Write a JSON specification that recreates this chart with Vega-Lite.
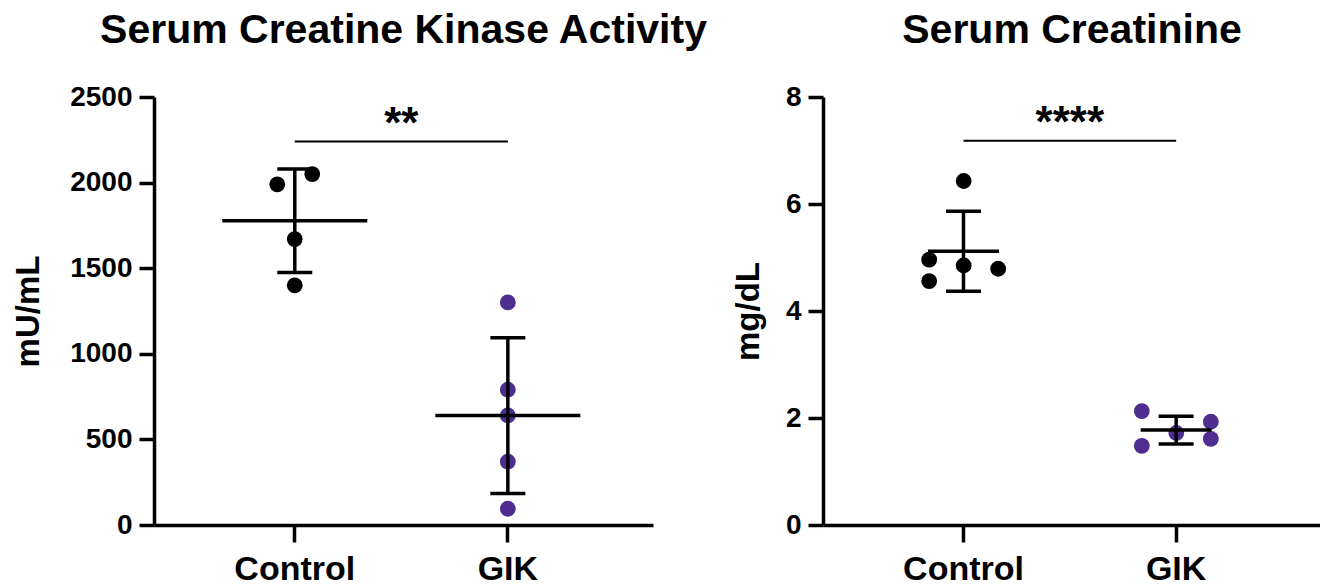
{
  "$schema": "https://vega.github.io/schema/vega-lite/v6.json",
  "background": "white",
  "padding": {"left": 12, "top": 10, "right": 0, "bottom": 0},
  "spacing": 24,
  "resolve": {"scale": {"xOffset": "independent"}},
  "config": {
    "font": "Liberation Sans",
    "view": {"stroke": null},
    "axis": {
      "grid": false,
      "domainColor": "black",
      "domainWidth": 3.5,
      "tickColor": "black",
      "tickWidth": 3.5,
      "tickSize": 15,
      "labelColor": "black",
      "labelFont": "Liberation Sans",
      "labelFontWeight": "bold",
      "labelFontSize": 28,
      "titleFont": "Liberation Sans",
      "titleFontWeight": "bold",
      "titleFontSize": 33,
      "titleColor": "black"
    },
    "title": {"font": "Liberation Sans", "fontWeight": "bold", "fontSize": 41, "color": "black", "anchor": "middle", "offset": 31}
  },
  "datasets": {
    "ck": [
      {"Group": "Control", "lane": "right", "value": 2050},
      {"Group": "Control", "lane": "left", "value": 1990},
      {"Group": "Control", "lane": "mid", "value": 1670},
      {"Group": "Control", "lane": "mid", "value": 1400},
      {"Group": "GIK", "lane": "mid", "value": 1300},
      {"Group": "GIK", "lane": "mid", "value": 790},
      {"Group": "GIK", "lane": "mid", "value": 640},
      {"Group": "GIK", "lane": "mid", "value": 370},
      {"Group": "GIK", "lane": "mid", "value": 95}
    ],
    "ck_sig": [{"from": "Control", "to": "GIK", "y": 2240, "label": "**"}],
    "creat": [
      {"Group": "Control", "lane": "mid", "value": 6.43},
      {"Group": "Control", "lane": "left", "value": 4.96},
      {"Group": "Control", "lane": "mid", "value": 4.85},
      {"Group": "Control", "lane": "right", "value": 4.79},
      {"Group": "Control", "lane": "left", "value": 4.56},
      {"Group": "GIK", "lane": "left", "value": 2.13},
      {"Group": "GIK", "lane": "right", "value": 1.93},
      {"Group": "GIK", "lane": "mid", "value": 1.72},
      {"Group": "GIK", "lane": "right", "value": 1.61},
      {"Group": "GIK", "lane": "left", "value": 1.48}
    ],
    "creat_sig": [{"from": "Control", "to": "GIK", "y": 7.18, "label": "****"}]
  },
  "hconcat": [
    {
      "title": {"text": "Serum Creatine Kinase Activity"},
      "width": 499,
      "height": 428,
      "layer": [
        {
          "data": {"name": "ck"},
          "mark": {"type": "circle", "size": 250, "opacity": 1},
          "encoding": {
            "x": {"field": "Group", "type": "nominal", "sort": ["Control", "GIK"],
              "scale": {"type": "band", "domain": ["Control", "GIK"], "paddingInner": 0, "paddingOuter": 0.171, "align": 0.47},
              "axis": {"title": null, "labelAngle": 0, "labelFontSize": 34, "labelPadding": 10, "tickSize": 17}},
            "xOffset": {"field": "lane", "type": "nominal", "scale": {"domain": ["left", "mid", "right"], "range": [80.25, 132.75]}},
            "y": {"field": "value", "type": "quantitative", "title": "mU/mL", "scale": {"domain": [0, 2500], "nice": false},
              "axis": {"title": "mU/mL", "values": [0, 500, 1000, 1500, 2000, 2500], "format": "d", "labelPadding": 7, "titlePadding": 24}},
            "color": {"field": "Group", "type": "nominal", "scale": {"domain": ["Control", "GIK"], "range": ["#000000", "#502D91"]}, "legend": null}
          }
        },
        {
          "data": {"name": "ck"},
          "mark": {"type": "errorbar", "extent": "stdev", "ticks": {"size": 35, "thickness": 3.5, "color": "black", "opacity": 1}, "rule": {"strokeWidth": 3.5, "color": "black", "opacity": 1}},
          "encoding": {
            "x": {"field": "Group", "type": "nominal"},
            "y": {"field": "value", "type": "quantitative", "title": "mU/mL"}
          }
        },
        {
          "data": {"name": "ck"},
          "mark": {"type": "tick", "size": 145, "thickness": 3.5, "color": "black", "opacity": 1},
          "encoding": {
            "x": {"field": "Group", "type": "nominal"},
            "y": {"field": "value", "aggregate": "mean", "type": "quantitative", "title": "mU/mL"}
          }
        },
        {
          "data": {"name": "ck_sig"},
          "mark": {"type": "rule", "strokeWidth": 2, "color": "black"},
          "encoding": {
            "x": {"field": "from", "type": "nominal"},
            "x2": {"field": "to"},
            "y": {"field": "y", "type": "quantitative", "title": "mU/mL"}
          }
        },
        {
          "data": {"name": "ck_sig"},
          "mark": {"type": "text", "fontSize": 44, "fontWeight": "bold", "baseline": "bottom", "dy": 5, "color": "black"},
          "encoding": {
            "x": {"field": "from", "type": "nominal", "bandPosition": 1},
            "y": {"field": "y", "type": "quantitative", "title": "mU/mL"},
            "text": {"field": "label"}
          }
        }
      ]
    },
    {
      "title": {"text": "Serum Creatinine"},
      "width": 498,
      "height": 428,
      "layer": [
        {
          "data": {"name": "creat"},
          "mark": {"type": "circle", "size": 250, "opacity": 1},
          "encoding": {
            "x": {"field": "Group", "type": "nominal", "sort": ["Control", "GIK"],
              "scale": {"type": "band", "domain": ["Control", "GIK"], "paddingInner": 0, "paddingOuter": 0.171, "align": 0.47},
              "axis": {"title": null, "labelAngle": 0, "labelFontSize": 34, "labelPadding": 10, "tickSize": 17}},
            "xOffset": {"field": "lane", "type": "nominal", "scale": {"domain": ["left", "mid", "right"], "range": [54.75, 158.25]}},
            "y": {"field": "value", "type": "quantitative", "title": "mg/dL", "scale": {"domain": [0, 8], "nice": false},
              "axis": {"title": "mg/dL", "values": [0, 2, 4, 6, 8], "labelPadding": 7, "titlePadding": 20}},
            "color": {"field": "Group", "type": "nominal", "scale": {"domain": ["Control", "GIK"], "range": ["#000000", "#502D91"]}, "legend": null}
          }
        },
        {
          "data": {"name": "creat"},
          "mark": {"type": "errorbar", "extent": "stdev", "ticks": {"size": 35, "thickness": 3.5, "color": "black", "opacity": 1}, "rule": {"strokeWidth": 3.5, "color": "black", "opacity": 1}},
          "encoding": {
            "x": {"field": "Group", "type": "nominal"},
            "y": {"field": "value", "type": "quantitative", "title": "mg/dL"}
          }
        },
        {
          "data": {"name": "creat"},
          "mark": {"type": "tick", "size": 71, "thickness": 3.5, "color": "black", "opacity": 1},
          "encoding": {
            "x": {"field": "Group", "type": "nominal"},
            "y": {"field": "value", "aggregate": "mean", "type": "quantitative", "title": "mg/dL"}
          }
        },
        {
          "data": {"name": "creat_sig"},
          "mark": {"type": "rule", "strokeWidth": 2, "color": "black"},
          "encoding": {
            "x": {"field": "from", "type": "nominal"},
            "x2": {"field": "to"},
            "y": {"field": "y", "type": "quantitative", "title": "mg/dL"}
          }
        },
        {
          "data": {"name": "creat_sig"},
          "mark": {"type": "text", "fontSize": 44, "fontWeight": "bold", "baseline": "bottom", "dy": 5, "color": "black"},
          "encoding": {
            "x": {"field": "from", "type": "nominal", "bandPosition": 1},
            "y": {"field": "y", "type": "quantitative", "title": "mg/dL"},
            "text": {"field": "label"}
          }
        }
      ]
    }
  ]
}
